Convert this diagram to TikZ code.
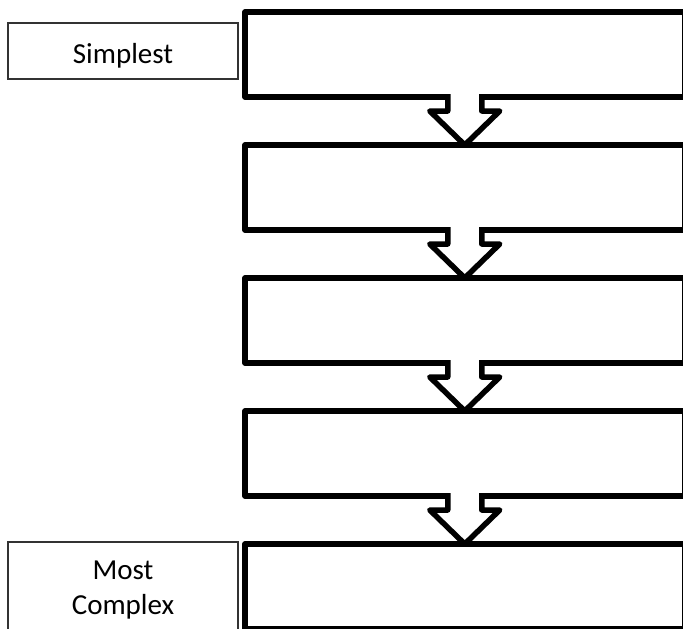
\documentclass[tikz,border=0pt]{standalone}
\usepackage{fontspec}
\setmainfont{Carlito}
\usetikzlibrary{calc}
\begin{document}
\begin{tikzpicture}[x=1pt,y=-1pt,
	stage/.style={draw,line width=5.5pt,line join=round,minimum width=439.5pt,minimum height=85pt,outer sep=0pt,anchor=north west},
	levelfont/.style={font=\fontsize{29}{35}\selectfont,align=center},
	levelbox/.style={draw=black!80,line width=1.2pt,minimum width=230pt,outer sep=0pt,levelfont},
	blockarrow/.style={fill=white,draw,line width=5.5pt,line join=round}]
	\clip (0,0) rectangle (683,629);
	% stages, top to bottom
	\foreach \i in {1,...,5}
		\node[stage] (s\i) at (245,{12+133*(\i-1)}) {};
	\node[levelbox,minimum height=56pt,text height=24pt,text depth=0pt] (simplest) at (123,51) {Simplest};
	\node[levelbox,minimum height=140pt,anchor=north,
		label={[anchor=north,inner sep=0pt,yshift=-19pt,levelfont]north:Most\\Complex}] (complex) at (123,542) {};
	% block arrows between the stages
	\foreach \i [count=\j from 2] in {1,...,4}
		\draw[blockarrow] ($(s\i.south)+(-17,-3)$) -- ++(0,17) -- ++(-18,0) -- (s\j.north)
			-- ($(s\i.south)+(35,14)$) -- ++(-18,0) -- ++(0,-17);
\end{tikzpicture}
\end{document}
